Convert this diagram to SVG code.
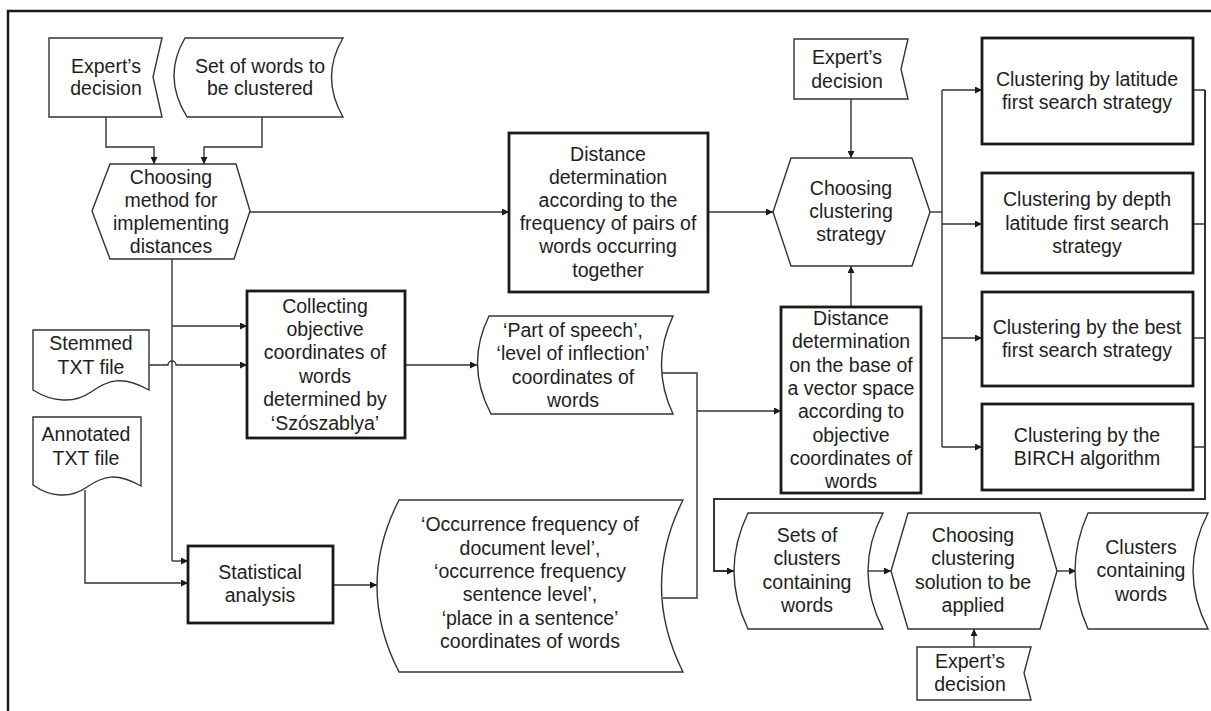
<svg xmlns="http://www.w3.org/2000/svg" width="1211" height="711" viewBox="0 0 1211 711">
<defs>
<marker id="ah" viewBox="0 0 10 10" refX="10" refY="5" markerWidth="9" markerHeight="7" markerUnits="userSpaceOnUse" orient="auto"><path d="M0,0 L10,5 L0,10 z" fill="#1a1a1a"/></marker>
<style>
.t{font-family:"Liberation Sans",Arial,sans-serif;font-size:19.5px;fill:#1e1e1e;text-anchor:middle}
.thin{fill:#fff;stroke:#333;stroke-width:1.4}
.thick{fill:#fff;stroke:#1a1a1a;stroke-width:2.8}
.c{fill:none;stroke:#333;stroke-width:1.4}
.ca{fill:none;stroke:#333;stroke-width:1.4;marker-end:url(#ah)}
</style>
</defs>
<rect width="1211" height="711" fill="#fff"/>
<path d="M8,712 V11 H1211" fill="none" stroke="#1a1a1a" stroke-width="2.5"/>

<g id="connectors">
<path class="ca" d="M106,117 V147 H154 V164"/>
<path class="ca" d="M262,117 V147 H204 V164"/>
<path class="ca" d="M250,212 H509"/>
<path class="ca" d="M708,212 H773"/>
<path class="ca" d="M851,99 V158"/>
<path class="c" d="M930,212 H942"/>
<path class="c" d="M942,90 V447"/>
<path class="ca" d="M942,90 H982"/>
<path class="ca" d="M942,224 H982"/>
<path class="ca" d="M942,338 H982"/>
<path class="ca" d="M942,447 H982"/>
<path class="c" d="M1193,90 H1205 M1193,224 H1205 M1193,338 H1205 M1193,447 H1205"/>
<path class="ca" d="M1205,90 V499 H714 V571 H734" style="stroke-width:2"/>
<path class="ca" d="M851,307 V266"/>
<path class="c" d="M172,259 V561"/>
<path class="ca" d="M172,326 H247"/>
<path class="ca" d="M149,365 H168 A4,4 0 0 1 176,365 H247"/>
<path class="ca" d="M172,561 H188"/>
<path class="ca" d="M85,490 V583 H188"/>
<path class="ca" d="M405,365 H477"/>
<path class="c" d="M662,373 H697 V598 H663"/>
<path class="ca" d="M697,411 H781"/>
<path class="ca" d="M333,585 H377"/>
<path class="ca" d="M868,571 H891"/>
<path class="ca" d="M1057,571 H1076"/>
<path class="ca" d="M974,647 V629"/>
</g>

<g id="expert1">
<polygon class="thin" points="49,38 162,38 153,77 162,117 49,117"/>
<text class="t" x="106" y="73">Expert’s</text>
<text class="t" x="106" y="95">decision</text>
</g>

<g id="setwords">
<path class="thin" d="M185,38 H343 Q320,77 343,117 H187 Q162,77 185,38 Z"/>
<text class="t" x="260" y="73">Set of words to</text>
<text class="t" x="260" y="95">be clustered</text>
</g>

<g id="choosing-method">
<polygon class="thin" points="110,164 236,164 250,211 234,259 110,259 92,211"/>
<text class="t" x="171" y="183.5">Choosing</text>
<text class="t" x="171" y="206.5">method for</text>
<text class="t" x="171" y="229.5">implementing</text>
<text class="t" x="171" y="252.5">distances</text>
</g>

<g id="dist-freq">
<rect class="thick" x="509" y="133" width="199" height="159"/>
<text class="t" x="608" y="160.5">Distance</text>
<text class="t" x="608" y="183.7">determination</text>
<text class="t" x="608" y="206.9">according to the</text>
<text class="t" x="608" y="230.1">frequency of pairs of</text>
<text class="t" x="608" y="253.3">words occurring</text>
<text class="t" x="608" y="276.5">together</text>
</g>

<g id="expert2">
<polygon class="thin" points="794,39 908,39 901,69 908,99 794,99"/>
<text class="t" x="847" y="64">Expert’s</text>
<text class="t" x="847" y="88">decision</text>
</g>

<g id="choosing-strategy">
<polygon class="thin" points="791,158 912,158 930,212 912,266 791,266 773,212"/>
<text class="t" x="851" y="195">Choosing</text>
<text class="t" x="851" y="218">clustering</text>
<text class="t" x="851" y="241">strategy</text>
</g>

<g id="cl-latitude">
<rect class="thick" x="982" y="38" width="211" height="106"/>
<text class="t" x="1087" y="86">Clustering by latitude</text>
<text class="t" x="1087" y="109">first search strategy</text>
</g>

<g id="cl-depth">
<rect class="thick" x="982" y="173" width="211" height="100"/>
<text class="t" x="1087" y="206">Clustering by depth</text>
<text class="t" x="1087" y="230">latitude first search</text>
<text class="t" x="1087" y="253">strategy</text>
</g>

<g id="cl-best">
<rect class="thick" x="982" y="292" width="211" height="94"/>
<text class="t" x="1087" y="334">Clustering by the best</text>
<text class="t" x="1087" y="357">first search strategy</text>
</g>

<g id="cl-birch">
<rect class="thick" x="982" y="404" width="211" height="86"/>
<text class="t" x="1087" y="442">Clustering by the</text>
<text class="t" x="1087" y="465">BIRCH algorithm</text>
</g>

<g id="stemmed">
<path class="thin" d="M33,330 H149 V390 C122,375 108,380 91,392 C74,404 52,402 33,390 Z"/>
<text class="t" x="91" y="350">Stemmed</text>
<text class="t" x="91" y="374">TXT file</text>
</g>

<g id="annotated">
<path class="thin" d="M33,417 H141 V486 C116,472 103,476 87,487 C70,499 50,497 33,485 Z"/>
<text class="t" x="86" y="441">Annotated</text>
<text class="t" x="86" y="465">TXT file</text>
</g>

<g id="collecting">
<rect class="thick" x="247" y="291" width="158" height="147"/>
<text class="t" x="325" y="313">Collecting</text>
<text class="t" x="325" y="336">objective</text>
<text class="t" x="325" y="359">coordinates of</text>
<text class="t" x="325" y="383">words</text>
<text class="t" x="325" y="406">determined by</text>
<text class="t" x="325" y="430">‘Szószablya’</text>
</g>

<g id="pos-coords">
<path class="thin" d="M489,316 H673 Q650,365 673,414 H491 Q465,365 489,316 Z"/>
<text class="t" x="573" y="337">‘Part of speech’,</text>
<text class="t" x="573" y="360">‘level of inflection’</text>
<text class="t" x="573" y="384">coordinates of</text>
<text class="t" x="573" y="407">words</text>
</g>

<g id="dist-vector">
<rect class="thick" x="781" y="307" width="140" height="186"/>
<text class="t" x="851" y="325">Distance</text>
<text class="t" x="851" y="348.3">determination</text>
<text class="t" x="851" y="371.6">on the base of</text>
<text class="t" x="851" y="394.9">a vector space</text>
<text class="t" x="851" y="418.2">according to</text>
<text class="t" x="851" y="441.5">objective</text>
<text class="t" x="851" y="464.8">coordinates of</text>
<text class="t" x="851" y="488.1">words</text>
</g>

<g id="statistical">
<rect class="thick" x="188" y="546" width="145" height="77"/>
<text class="t" x="260" y="579">Statistical</text>
<text class="t" x="260" y="602">analysis</text>
</g>

<g id="occurrence">
<path class="thin" d="M399,500 H683 Q640,586 683,672 H399 Q355,586 399,500 Z"/>
<text class="t" x="530" y="531">‘Occurrence frequency of</text>
<text class="t" x="530" y="555">document level’,</text>
<text class="t" x="530" y="578">‘occurrence frequency</text>
<text class="t" x="530" y="601">sentence level’,</text>
<text class="t" x="530" y="625">‘place in a sentence’</text>
<text class="t" x="530" y="648">coordinates of words</text>
</g>

<g id="sets-clusters">
<path class="thin" d="M748,513 H883 Q853,571 883,629 H748 Q720,571 748,513 Z"/>
<text class="t" x="807" y="542">Sets of</text>
<text class="t" x="807" y="565">clusters</text>
<text class="t" x="807" y="589">containing</text>
<text class="t" x="807" y="612">words</text>
</g>

<g id="choosing-solution">
<polygon class="thin" points="908,513 1040,513 1057,571 1040,629 908,629 891,571"/>
<text class="t" x="973" y="542">Choosing</text>
<text class="t" x="973" y="565">clustering</text>
<text class="t" x="973" y="589">solution to be</text>
<text class="t" x="973" y="612">applied</text>
</g>

<g id="clusters-words">
<path class="thin" d="M1088,513 H1208 Q1178,571 1208,629 H1088 Q1062,571 1088,513 Z"/>
<text class="t" x="1141" y="554">Clusters</text>
<text class="t" x="1141" y="577">containing</text>
<text class="t" x="1141" y="601">words</text>
</g>

<g id="expert3">
<polygon class="thin" points="917,647 1031,647 1024,673 1031,700 917,700"/>
<text class="t" x="970" y="668">Expert’s</text>
<text class="t" x="970" y="691">decision</text>
</g>
</svg>
